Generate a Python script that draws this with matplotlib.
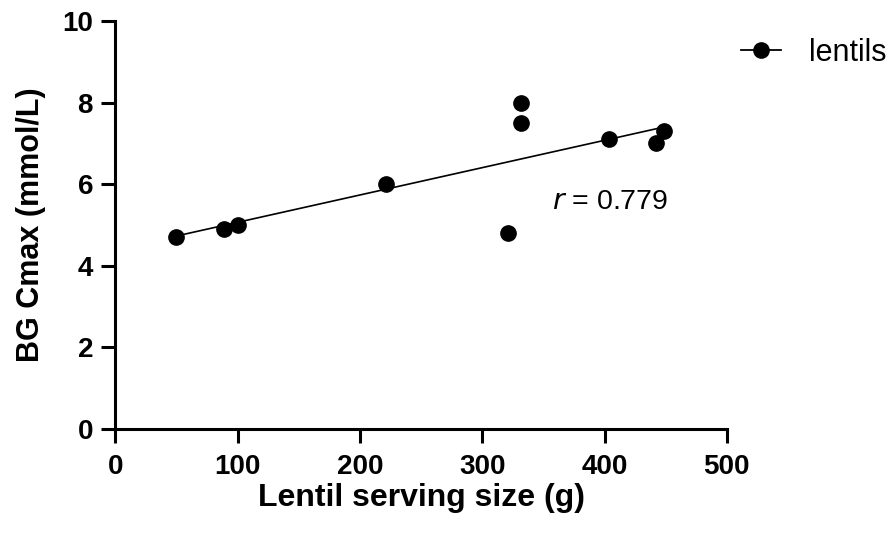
import numpy as np
import matplotlib
matplotlib.use("Agg")
import matplotlib.pyplot as plt

plt.rcParams['font.family'] = ['Liberation Sans', 'DejaVu Sans']

# serving size (g) vs peak blood glucose (mmol/L)
serving_g = [50, 89, 100, 221, 321, 332, 332, 404, 442, 449]
bg_cmax = [4.7, 4.9, 5.0, 6.0, 4.8, 8.0, 7.5, 7.1, 7.0, 7.3]
x_ticks = [0, 100, 200, 300, 400, 500]
y_ticks = [0, 2, 4, 6, 8, 10]
r_label = "0.779"

fig = plt.figure(figsize=(8.94, 5.35), dpi=100)
ax = fig.add_axes([0.129, 0.198, 0.684, 0.763])

x = np.array(serving_g)
y = np.array(bg_cmax)
slope, icpt = np.polyfit(x, y, 1)
xf = np.array([x.min(), x.max()])
ax.plot(xf, slope * xf + icpt, color='black', lw=1.2, zorder=2)
ax.plot(x, y, 'o', color='black', ms=11, zorder=3)

# legend handle: marker with line, as in the source
ax.plot([], [], '-o', color='black', ms=11, lw=1.3, label='lentils')
fig.legend(loc='upper left', bbox_to_anchor=(0.798, 0.981), frameon=False,
           fontsize=22, handlelength=1.3, handletextpad=0.93)

ax.text(357, 5.56, '$\\it{r}$ = ' + r_label, fontsize=20.5, va='center', ha='left')

ax.set_xlim(0, 500)
ax.set_ylim(0, 10)
ax.set_xticks(x_ticks)
ax.set_yticks(y_ticks)
for s in ['top', 'right']:
    ax.spines[s].set_visible(False)
for s in ['left', 'bottom']:
    ax.spines[s].set_linewidth(2.2)
ax.tick_params(width=2.2, length=10, labelsize=20)
ax.tick_params(axis='x', pad=8)
ax.tick_params(axis='y', pad=6)
for lbl in ax.get_xticklabels() + ax.get_yticklabels():
    lbl.set_fontweight('bold')

ax.set_xlabel('Lentil serving size (g)', fontsize=23, fontweight='bold', labelpad=2)
ax.set_ylabel('BG Cmax (mmol/L)', fontsize=22, fontweight='bold', labelpad=12)

fig.savefig('out.png', dpi=100)
